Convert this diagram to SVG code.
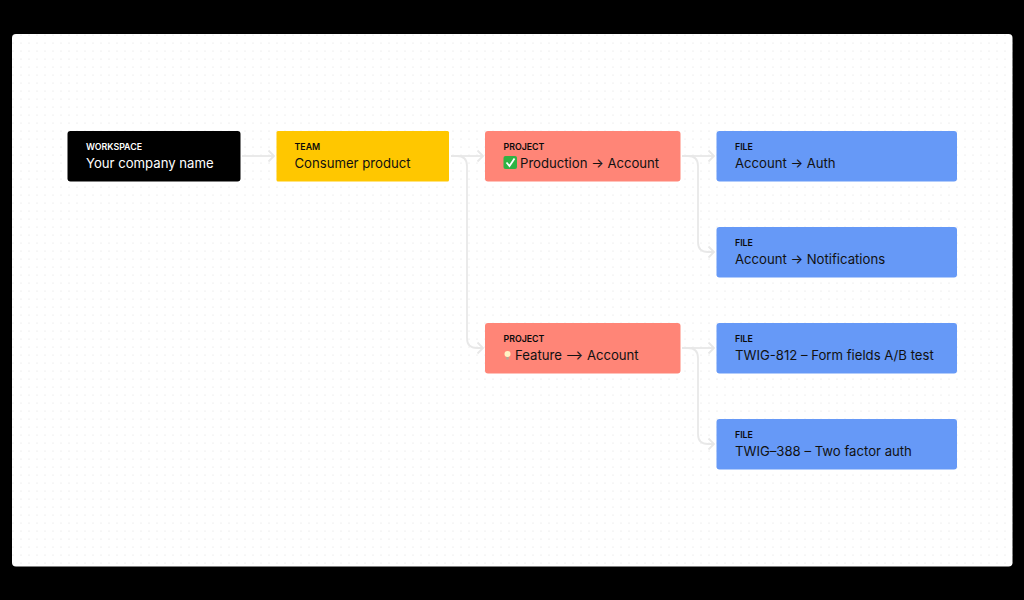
<svg xmlns="http://www.w3.org/2000/svg" width="1024" height="600" viewBox="0 0 1024 600">
<style>
.lb{font:600 8.8px Inter,"Liberation Sans",sans-serif;fill:#0a0a0a}
.tx{font:400 13.15px Inter,"Liberation Sans",sans-serif;fill:#111}
.w{fill:#fff}
.c{fill:none;stroke:#e8e8e8;stroke-width:1.8}
</style>
<defs>
<pattern id="dots" x="4" y="2" width="8" height="8" patternUnits="userSpaceOnUse"><circle cx="1" cy="1" r=".6" fill="#dcdcdc"/></pattern>
<marker id="a" markerWidth="10" markerHeight="14" refX="8" refY="7" orient="auto" markerUnits="userSpaceOnUse"><path d="M2.5 1.5L8 7L2.5 12.5" fill="none" stroke="#e8e8e8" stroke-width="1.8"/></marker>
</defs>
<rect width="1024" height="600" fill="#000"/>
<rect x="12" y="34" width="1000.5" height="532.5" rx="4" fill="#fff"/>
<rect x="12" y="34" width="1000.5" height="532.5" rx="4" fill="url(#dots)"/>
<g id="connectors">
<path class="c" marker-end="url(#a)" d="M242 156H274"/>
<path class="c" marker-end="url(#a)" d="M451 156H483"/>
<path class="c" marker-end="url(#a)" d="M451 156H457Q467 156 467 166V338Q467 348 477 348H483"/>
<path class="c" marker-end="url(#a)" d="M682 156H714"/>
<path class="c" marker-end="url(#a)" d="M682 156H688Q698 156 698 166V242Q698 252 708 252H714"/>
<path class="c" marker-end="url(#a)" d="M682 348H714"/>
<path class="c" marker-end="url(#a)" d="M682 348H688Q698 348 698 358V434Q698 444 708 444H714"/>
</g>
<g id="workspace"><rect x="67.5" y="131" width="173" height="50.5" rx="3" fill="#000"/><text class="lb w" x="86" y="150">WORKSPACE</text><text class="tx w" x="86" y="168">Your company name</text></g>
<g id="team"><rect x="276.5" y="131" width="172.5" height="50.5" rx="1.5" fill="#ffc700"/><text class="lb" x="294.5" y="150">TEAM</text><text class="tx" x="294.5" y="168">Consumer product</text></g>
<g id="project-production"><rect x="485" y="131" width="195.5" height="50.5" rx="3" fill="#ff8577"/><text class="lb" x="503.5" y="150">PROJECT</text><rect x="503.5" y="156" width="13.5" height="13" rx="2" fill="#2fb344"/><path d="M506.5 162.5L509.5 166L514.5 158.5" fill="none" stroke="#fff" stroke-width="1.8"/><text class="tx" x="520" y="168">Production → Account</text></g>
<g id="project-feature"><rect x="485" y="323" width="195.5" height="50.5" rx="3" fill="#ff8577"/><text class="lb" x="503.5" y="342">PROJECT</text><circle cx="507.5" cy="354" r="3" fill="#fff3c4"/><rect x="506.3" y="357" width="2.4" height="2.5" fill="#b0a89a"/><text class="tx" x="515" y="360">Feature ⟶ Account</text></g>
<g id="file-auth"><rect x="716.5" y="131" width="240.5" height="50.5" rx="3" fill="#6699f7"/><text class="lb" x="735" y="150">FILE</text><text class="tx" x="735" y="168">Account → Auth</text></g>
<g id="file-notifications"><rect x="716.5" y="227" width="240.5" height="50.5" rx="3" fill="#6699f7"/><text class="lb" x="735" y="246">FILE</text><text class="tx" x="735" y="264">Account → Notifications</text></g>
<g id="file-812"><rect x="716.5" y="323" width="240.5" height="50.5" rx="3" fill="#6699f7"/><text class="lb" x="735" y="342">FILE</text><text class="tx" x="735" y="360">TWIG-812 – Form fields A/B test</text></g>
<g id="file-388"><rect x="716.5" y="419" width="240.5" height="50.5" rx="3" fill="#6699f7"/><text class="lb" x="735" y="438">FILE</text><text class="tx" x="735" y="456">TWIG–388 – Two factor auth</text></g>
</svg>
